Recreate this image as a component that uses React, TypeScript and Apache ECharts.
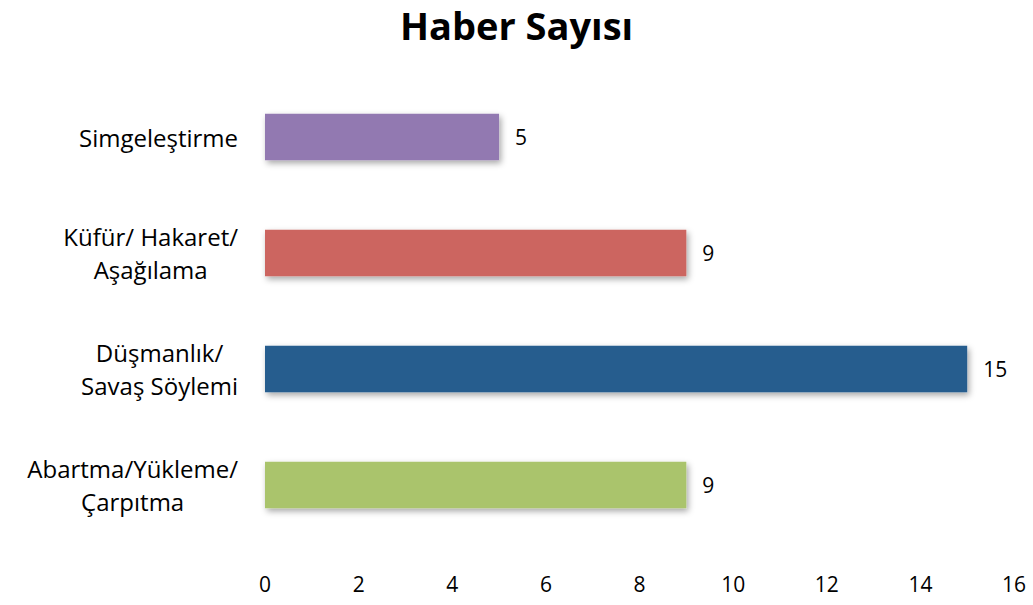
import React, { useEffect, useRef } from "react";
import * as echarts from "echarts";

const categories = [
  "Abartma/Yükleme/\nÇarpıtma",
  "Düşmanlık/\nSavaş Söylemi",
  "Küfür/ Hakaret/\nAşağılama",
  "Simgeleştirme",
];
const values = [9, 15, 9, 5];
const colors = ["#AAC46C", "#285D8E", "#CC6560", "#9279B1"];
const title = "Haber Sayısı";

const FONT = "Open Sans";

export default function App() {
  const ref = useRef<HTMLDivElement>(null);
  useEffect(() => {
    document.body.style.margin = "0";
    const chart = echarts.init(ref.current!, undefined, { renderer: "svg" });
    chart.setOption({
      animation: false,
      backgroundColor: "#ffffff",
      title: {
        text: title,
        left: "center",
        top: 3,
        padding: 0,
        textStyle: { fontFamily: FONT, fontSize: 38, lineHeight: 44, fontWeight: "bold", color: "#000" },
      },
      grid: { left: 265, right: 19, top: 79, bottom: 62, containLabel: false },
      xAxis: {
        type: "value",
        min: 0,
        max: 16,
        interval: 2,
        axisLine: { show: false },
        axisTick: { show: false },
        splitLine: { show: false },
        axisLabel: { color: "#000", fontFamily: FONT, fontSize: 21, margin: 30 },
      },
      yAxis: {
        type: "category",
        data: categories,
        axisLine: { show: false },
        axisTick: { show: false },
        axisLabel: {
          margin: 27,
          align: "right",
          formatter: (v: string) => v.split("\n").map((l) => `{c|${l}}`).join("\n"),
          rich: {
            c: { align: "center", fontFamily: FONT, fontSize: 24, color: "#000", lineHeight: 33 },
          },
        },
      },
      series: [
        {
          type: "bar",
          data: values.map((v, i) => ({ value: v, itemStyle: { color: colors[i] } })),
          barWidth: "40%",
          itemStyle: {
            shadowColor: "rgba(0,0,0,0.35)",
            shadowBlur: 6,
            shadowOffsetX: 2,
            shadowOffsetY: 3,
          },
          label: {
            show: true,
            position: "right",
            distance: 16,
            color: "#000",
            fontFamily: FONT,
            fontSize: 21,
          },
        },
      ],
    });
    return () => chart.dispose();
  }, []);
  return <div ref={ref} style={{ width: 1033, height: 605 }} />;
}
